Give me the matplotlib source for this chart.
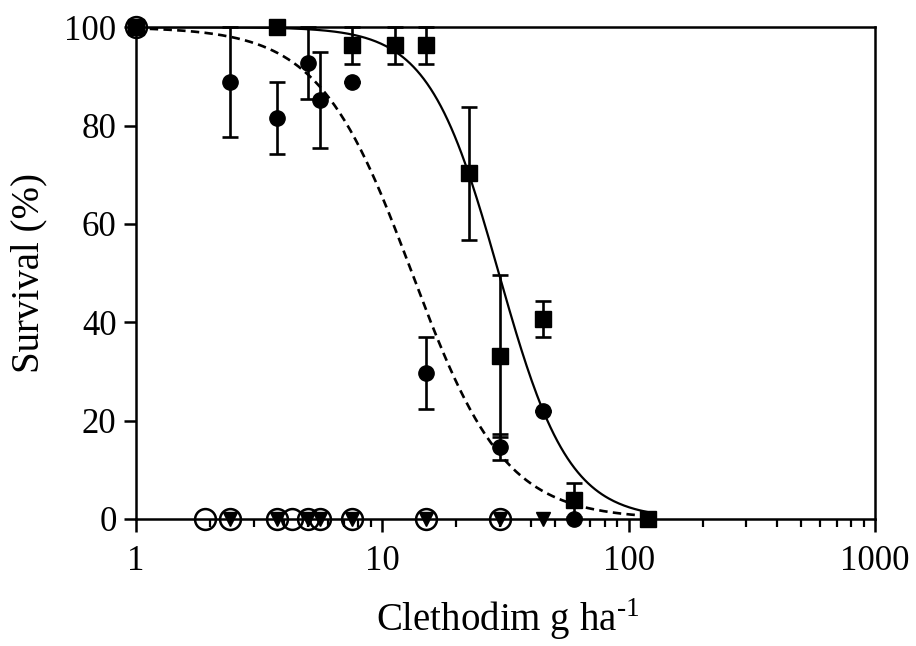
import numpy as np
import matplotlib
matplotlib.use("Agg")
import matplotlib.pyplot as plt
from matplotlib.ticker import LogLocator, FixedLocator, NullFormatter

plt.rcParams['font.family'] = ['Liberation Serif', 'DejaVu Serif']
plt.rcParams['mathtext.fontset'] = 'custom'
plt.rcParams['mathtext.rm'] = 'Liberation Serif'

# Squares (filled) with SE
sq_x = [1, 3.75, 7.5, 11.25, 15, 22.5, 30, 45, 60, 120]
sq_y = [100, 100, 96.3, 96.3, 96.3, 70.3, 33.1, 40.6, 3.9, 0]
sq_e = [0, 0, 3.7, 3.7, 3.7, 13.5, 16.5, 3.7, 3.5, 0]

# Filled circles with SE
fc_x = [1, 2.4, 3.75, 5, 5.6, 7.5, 15, 30, 45, 60]
fc_y = [100, 88.8, 81.5, 92.7, 85.2, 88.8, 29.7, 14.6, 22.0, 0]
fc_e = [0, 11.2, 7.3, 7.4, 9.8, 0, 7.4, 2.7, 0, 0]

# Open circles
oc_x = [1, 1.9, 2.4, 3.75, 4.3, 5, 5.6, 7.5, 15, 30]
oc_y = [100, 0, 0, 0, 0, 0, 0, 0, 0, 0]

# Down triangles
tr_x = [2.4, 3.75, 5, 5.6, 7.5, 15, 30, 45]
tr_y = [0, 0, 0, 0, 0, 0, 0, 0]

# Fitted log-logistic curves
solid_ed50, solid_b = 29.7, 3.05
dash_ed50, dash_b = 13.2, 2.3

fig = plt.figure(figsize=(9.16, 6.46), dpi=100)
ax = fig.add_axes([0.1485, 0.1966, 0.9552 - 0.1485, 0.958 - 0.1966])

xc = np.logspace(0, np.log10(120), 300)
ax.plot(xc, 100 / (1 + (xc / solid_ed50) ** solid_b), color='black', lw=1.6, zorder=2)
ax.plot(xc, 100 / (1 + (xc / dash_ed50) ** dash_b), color='black', lw=1.9,
        ls=(0, (3.2, 2.0)), zorder=2)

ekw = dict(ecolor='black', elinewidth=1.9, capsize=5.5, capthick=1.9, clip_on=False)
eb = ax.errorbar(sq_x, sq_y, yerr=sq_e, fmt='s', color='black', ms=11, zorder=4, **ekw)
eb2 = ax.errorbar(fc_x, fc_y, yerr=fc_e, fmt='o', color='black', ms=11, zorder=4, **ekw)
for c in (eb, eb2):
    for part in c.lines:
        if part is None:
            continue
        if isinstance(part, (list, tuple)):
            for p in part:
                p.set_clip_on(False)
        else:
            part.set_clip_on(False)

ax.plot(oc_x, oc_y, 'o', mfc='none', mec='black', mew=1.8, ms=15, clip_on=False, zorder=5)
ax.plot(tr_x, tr_y, 'v', color='black', ms=10.5, clip_on=False, zorder=6)

ax.set_xscale('log')
ax.set_xlim(1, 1000)
ax.set_ylim(0, 100)
ax.xaxis.set_major_locator(FixedLocator([1, 10, 100, 1000]))
ax.xaxis.set_minor_locator(LogLocator(base=10, subs=np.arange(2, 10)))
ax.xaxis.set_minor_formatter(NullFormatter())
ax.set_xticklabels(['1', '10', '100', '1000'])
ax.set_yticks([0, 20, 40, 60, 80, 100])

for s in ax.spines.values():
    s.set_linewidth(1.8)
ax.tick_params(axis='both', which='major', direction='out', length=9, width=1.8,
               labelsize=25)
ax.tick_params(axis='x', which='major', pad=10)
ax.tick_params(axis='y', which='major', pad=5)
ax.tick_params(axis='x', which='minor', direction='out', length=6, width=1.6)

fig.text(508 / 916, 1 - 631 / 646, r'Clethodim g ha$^{\text{-1}}$', fontsize=28,
         ha='center', va='baseline')
fig.text(29 / 916, 1 - 273 / 646, 'Survival (%)', fontsize=28, rotation=90,
         ha='center', va='center')

fig.savefig('out.png', dpi=100)
